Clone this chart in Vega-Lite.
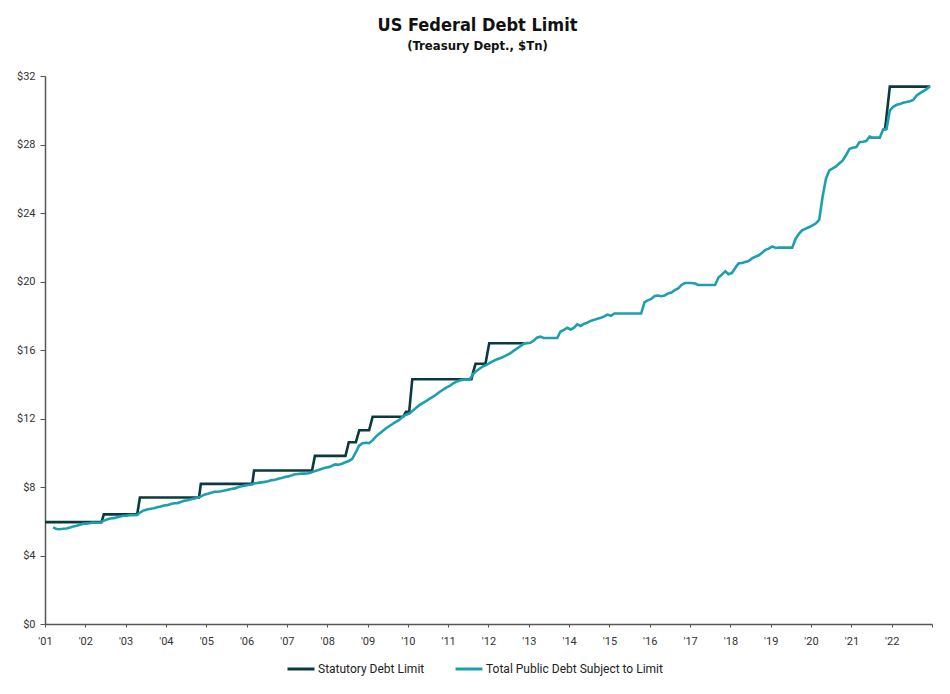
{
  "$schema": "https://vega.github.io/schema/vega-lite/v6.json",
  "width": 887,
  "height": 548,
  "autosize": {"type": "none"},
  "padding": {"left": 45, "top": 76, "right": 18, "bottom": 70},
  "background": "white",
  "config": {"view": {"stroke": null}},
  "title": {
    "text": "US Federal Debt Limit",
    "subtitle": "(Treasury Dept., $Tn)",
    "font": "DejaVu Sans Condensed",
    "fontSize": 18,
    "fontWeight": "bold",
    "color": "#111111",
    "subtitleFont": "DejaVu Sans Condensed",
    "subtitleFontSize": 13,
    "subtitleFontWeight": "bold",
    "subtitleColor": "#111111",
    "subtitlePadding": 5,
    "anchor": "middle",
    "dx": -11,
    "offset": 17
  },
  "data": {
    "values": [
      {"date": "2001-01-01", "series": "Statutory Debt Limit", "value": 5.95},
      {"date": "2002-05-28", "series": "Statutory Debt Limit", "value": 5.95},
      {"date": "2002-06-18", "series": "Statutory Debt Limit", "value": 6.4},
      {"date": "2003-04-16", "series": "Statutory Debt Limit", "value": 6.4},
      {"date": "2003-05-11", "series": "Statutory Debt Limit", "value": 7.384},
      {"date": "2004-10-27", "series": "Statutory Debt Limit", "value": 7.384},
      {"date": "2004-11-13", "series": "Statutory Debt Limit", "value": 8.184},
      {"date": "2006-02-21", "series": "Statutory Debt Limit", "value": 8.184},
      {"date": "2006-03-10", "series": "Statutory Debt Limit", "value": 8.965},
      {"date": "2007-08-17", "series": "Statutory Debt Limit", "value": 8.965},
      {"date": "2007-09-12", "series": "Statutory Debt Limit", "value": 9.815},
      {"date": "2008-06-15", "series": "Statutory Debt Limit", "value": 9.815},
      {"date": "2008-07-15", "series": "Statutory Debt Limit", "value": 10.615},
      {"date": "2008-09-17", "series": "Statutory Debt Limit", "value": 10.615},
      {"date": "2008-10-18", "series": "Statutory Debt Limit", "value": 11.315},
      {"date": "2009-01-15", "series": "Statutory Debt Limit", "value": 11.315},
      {"date": "2009-02-16", "series": "Statutory Debt Limit", "value": 12.104},
      {"date": "2009-11-20", "series": "Statutory Debt Limit", "value": 12.104},
      {"date": "2009-12-15", "series": "Statutory Debt Limit", "value": 12.394},
      {"date": "2010-01-13", "series": "Statutory Debt Limit", "value": 12.394},
      {"date": "2010-02-10", "series": "Statutory Debt Limit", "value": 14.294},
      {"date": "2011-07-31", "series": "Statutory Debt Limit", "value": 14.294},
      {"date": "2011-08-15", "series": "Statutory Debt Limit", "value": 14.694},
      {"date": "2011-09-06", "series": "Statutory Debt Limit", "value": 15.194},
      {"date": "2011-12-05", "series": "Statutory Debt Limit", "value": 15.194},
      {"date": "2012-01-08", "series": "Statutory Debt Limit", "value": 16.394},
      {"date": "2012-11-20", "series": "Statutory Debt Limit", "value": 16.394},
      {"date": "2013-06-15", "series": "Statutory Debt Limit", "value": null},
      {"date": "2021-10-15", "series": "Statutory Debt Limit", "value": 28.9},
      {"date": "2021-11-02", "series": "Statutory Debt Limit", "value": 28.9},
      {"date": "2021-12-15", "series": "Statutory Debt Limit", "value": 31.381},
      {"date": "2022-12-15", "series": "Statutory Debt Limit", "value": 31.381},
      {"date": "2001-03-15", "series": "Total Public Debt Subject to Limit", "value": 5.64},
      {"date": "2001-04-15", "series": "Total Public Debt Subject to Limit", "value": 5.55},
      {"date": "2001-05-15", "series": "Total Public Debt Subject to Limit", "value": 5.53},
      {"date": "2001-06-15", "series": "Total Public Debt Subject to Limit", "value": 5.56},
      {"date": "2001-07-15", "series": "Total Public Debt Subject to Limit", "value": 5.58},
      {"date": "2001-08-15", "series": "Total Public Debt Subject to Limit", "value": 5.63},
      {"date": "2001-09-15", "series": "Total Public Debt Subject to Limit", "value": 5.70},
      {"date": "2001-10-15", "series": "Total Public Debt Subject to Limit", "value": 5.74},
      {"date": "2001-11-15", "series": "Total Public Debt Subject to Limit", "value": 5.80},
      {"date": "2001-12-15", "series": "Total Public Debt Subject to Limit", "value": 5.86},
      {"date": "2002-01-15", "series": "Total Public Debt Subject to Limit", "value": 5.86},
      {"date": "2002-02-15", "series": "Total Public Debt Subject to Limit", "value": 5.90},
      {"date": "2002-03-15", "series": "Total Public Debt Subject to Limit", "value": 5.92},
      {"date": "2002-04-15", "series": "Total Public Debt Subject to Limit", "value": 5.91},
      {"date": "2002-05-15", "series": "Total Public Debt Subject to Limit", "value": 5.92},
      {"date": "2002-06-15", "series": "Total Public Debt Subject to Limit", "value": 6.02},
      {"date": "2002-07-15", "series": "Total Public Debt Subject to Limit", "value": 6.10},
      {"date": "2002-08-15", "series": "Total Public Debt Subject to Limit", "value": 6.16},
      {"date": "2002-09-15", "series": "Total Public Debt Subject to Limit", "value": 6.18},
      {"date": "2002-10-15", "series": "Total Public Debt Subject to Limit", "value": 6.23},
      {"date": "2002-11-15", "series": "Total Public Debt Subject to Limit", "value": 6.28},
      {"date": "2002-12-15", "series": "Total Public Debt Subject to Limit", "value": 6.32},
      {"date": "2003-01-15", "series": "Total Public Debt Subject to Limit", "value": 6.33},
      {"date": "2003-02-15", "series": "Total Public Debt Subject to Limit", "value": 6.36},
      {"date": "2003-03-15", "series": "Total Public Debt Subject to Limit", "value": 6.36},
      {"date": "2003-04-15", "series": "Total Public Debt Subject to Limit", "value": 6.37},
      {"date": "2003-05-15", "series": "Total Public Debt Subject to Limit", "value": 6.52},
      {"date": "2003-06-15", "series": "Total Public Debt Subject to Limit", "value": 6.63},
      {"date": "2003-07-15", "series": "Total Public Debt Subject to Limit", "value": 6.69},
      {"date": "2003-08-15", "series": "Total Public Debt Subject to Limit", "value": 6.73},
      {"date": "2003-09-15", "series": "Total Public Debt Subject to Limit", "value": 6.76},
      {"date": "2003-10-15", "series": "Total Public Debt Subject to Limit", "value": 6.82},
      {"date": "2003-11-15", "series": "Total Public Debt Subject to Limit", "value": 6.86},
      {"date": "2003-12-15", "series": "Total Public Debt Subject to Limit", "value": 6.92},
      {"date": "2004-01-15", "series": "Total Public Debt Subject to Limit", "value": 6.94},
      {"date": "2004-02-15", "series": "Total Public Debt Subject to Limit", "value": 7.01},
      {"date": "2004-03-15", "series": "Total Public Debt Subject to Limit", "value": 7.05},
      {"date": "2004-04-15", "series": "Total Public Debt Subject to Limit", "value": 7.06},
      {"date": "2004-05-15", "series": "Total Public Debt Subject to Limit", "value": 7.12},
      {"date": "2004-06-15", "series": "Total Public Debt Subject to Limit", "value": 7.20},
      {"date": "2004-07-15", "series": "Total Public Debt Subject to Limit", "value": 7.23},
      {"date": "2004-08-15", "series": "Total Public Debt Subject to Limit", "value": 7.29},
      {"date": "2004-09-15", "series": "Total Public Debt Subject to Limit", "value": 7.33},
      {"date": "2004-10-15", "series": "Total Public Debt Subject to Limit", "value": 7.38},
      {"date": "2004-11-15", "series": "Total Public Debt Subject to Limit", "value": 7.45},
      {"date": "2004-12-15", "series": "Total Public Debt Subject to Limit", "value": 7.55},
      {"date": "2005-01-15", "series": "Total Public Debt Subject to Limit", "value": 7.60},
      {"date": "2005-02-15", "series": "Total Public Debt Subject to Limit", "value": 7.67},
      {"date": "2005-03-15", "series": "Total Public Debt Subject to Limit", "value": 7.72},
      {"date": "2005-04-15", "series": "Total Public Debt Subject to Limit", "value": 7.72},
      {"date": "2005-05-15", "series": "Total Public Debt Subject to Limit", "value": 7.75},
      {"date": "2005-06-15", "series": "Total Public Debt Subject to Limit", "value": 7.80},
      {"date": "2005-07-15", "series": "Total Public Debt Subject to Limit", "value": 7.84},
      {"date": "2005-08-15", "series": "Total Public Debt Subject to Limit", "value": 7.88},
      {"date": "2005-09-15", "series": "Total Public Debt Subject to Limit", "value": 7.92},
      {"date": "2005-10-15", "series": "Total Public Debt Subject to Limit", "value": 7.99},
      {"date": "2005-11-15", "series": "Total Public Debt Subject to Limit", "value": 8.04},
      {"date": "2005-12-15", "series": "Total Public Debt Subject to Limit", "value": 8.08},
      {"date": "2006-01-15", "series": "Total Public Debt Subject to Limit", "value": 8.12},
      {"date": "2006-02-15", "series": "Total Public Debt Subject to Limit", "value": 8.15},
      {"date": "2006-03-15", "series": "Total Public Debt Subject to Limit", "value": 8.22},
      {"date": "2006-04-15", "series": "Total Public Debt Subject to Limit", "value": 8.24},
      {"date": "2006-05-15", "series": "Total Public Debt Subject to Limit", "value": 8.27},
      {"date": "2006-06-15", "series": "Total Public Debt Subject to Limit", "value": 8.30},
      {"date": "2006-07-15", "series": "Total Public Debt Subject to Limit", "value": 8.34},
      {"date": "2006-08-15", "series": "Total Public Debt Subject to Limit", "value": 8.40},
      {"date": "2006-09-15", "series": "Total Public Debt Subject to Limit", "value": 8.42},
      {"date": "2006-10-15", "series": "Total Public Debt Subject to Limit", "value": 8.48},
      {"date": "2006-11-15", "series": "Total Public Debt Subject to Limit", "value": 8.53},
      {"date": "2006-12-15", "series": "Total Public Debt Subject to Limit", "value": 8.58},
      {"date": "2007-01-15", "series": "Total Public Debt Subject to Limit", "value": 8.62},
      {"date": "2007-02-15", "series": "Total Public Debt Subject to Limit", "value": 8.68},
      {"date": "2007-03-15", "series": "Total Public Debt Subject to Limit", "value": 8.74},
      {"date": "2007-04-15", "series": "Total Public Debt Subject to Limit", "value": 8.76},
      {"date": "2007-05-15", "series": "Total Public Debt Subject to Limit", "value": 8.78},
      {"date": "2007-06-15", "series": "Total Public Debt Subject to Limit", "value": 8.78},
      {"date": "2007-07-15", "series": "Total Public Debt Subject to Limit", "value": 8.80},
      {"date": "2007-08-15", "series": "Total Public Debt Subject to Limit", "value": 8.86},
      {"date": "2007-09-15", "series": "Total Public Debt Subject to Limit", "value": 8.94},
      {"date": "2007-10-15", "series": "Total Public Debt Subject to Limit", "value": 8.99},
      {"date": "2007-11-15", "series": "Total Public Debt Subject to Limit", "value": 9.06},
      {"date": "2007-12-15", "series": "Total Public Debt Subject to Limit", "value": 9.12},
      {"date": "2008-01-15", "series": "Total Public Debt Subject to Limit", "value": 9.16},
      {"date": "2008-02-15", "series": "Total Public Debt Subject to Limit", "value": 9.24},
      {"date": "2008-03-15", "series": "Total Public Debt Subject to Limit", "value": 9.32},
      {"date": "2008-04-15", "series": "Total Public Debt Subject to Limit", "value": 9.30},
      {"date": "2008-05-15", "series": "Total Public Debt Subject to Limit", "value": 9.36},
      {"date": "2008-06-15", "series": "Total Public Debt Subject to Limit", "value": 9.45},
      {"date": "2008-07-15", "series": "Total Public Debt Subject to Limit", "value": 9.52},
      {"date": "2008-08-15", "series": "Total Public Debt Subject to Limit", "value": 9.64},
      {"date": "2008-09-15", "series": "Total Public Debt Subject to Limit", "value": 10.00},
      {"date": "2008-10-15", "series": "Total Public Debt Subject to Limit", "value": 10.40},
      {"date": "2008-11-15", "series": "Total Public Debt Subject to Limit", "value": 10.56},
      {"date": "2008-12-15", "series": "Total Public Debt Subject to Limit", "value": 10.58},
      {"date": "2009-01-15", "series": "Total Public Debt Subject to Limit", "value": 10.56},
      {"date": "2009-02-15", "series": "Total Public Debt Subject to Limit", "value": 10.72},
      {"date": "2009-03-15", "series": "Total Public Debt Subject to Limit", "value": 10.93},
      {"date": "2009-04-15", "series": "Total Public Debt Subject to Limit", "value": 11.10},
      {"date": "2009-05-15", "series": "Total Public Debt Subject to Limit", "value": 11.25},
      {"date": "2009-06-15", "series": "Total Public Debt Subject to Limit", "value": 11.42},
      {"date": "2009-07-15", "series": "Total Public Debt Subject to Limit", "value": 11.55},
      {"date": "2009-08-15", "series": "Total Public Debt Subject to Limit", "value": 11.68},
      {"date": "2009-09-15", "series": "Total Public Debt Subject to Limit", "value": 11.80},
      {"date": "2009-10-15", "series": "Total Public Debt Subject to Limit", "value": 11.92},
      {"date": "2009-11-15", "series": "Total Public Debt Subject to Limit", "value": 12.10},
      {"date": "2009-12-15", "series": "Total Public Debt Subject to Limit", "value": 12.22},
      {"date": "2010-01-15", "series": "Total Public Debt Subject to Limit", "value": 12.29},
      {"date": "2010-02-15", "series": "Total Public Debt Subject to Limit", "value": 12.46},
      {"date": "2010-03-15", "series": "Total Public Debt Subject to Limit", "value": 12.62},
      {"date": "2010-04-15", "series": "Total Public Debt Subject to Limit", "value": 12.78},
      {"date": "2010-05-15", "series": "Total Public Debt Subject to Limit", "value": 12.90},
      {"date": "2010-06-15", "series": "Total Public Debt Subject to Limit", "value": 13.02},
      {"date": "2010-07-15", "series": "Total Public Debt Subject to Limit", "value": 13.14},
      {"date": "2010-08-15", "series": "Total Public Debt Subject to Limit", "value": 13.26},
      {"date": "2010-09-15", "series": "Total Public Debt Subject to Limit", "value": 13.40},
      {"date": "2010-10-15", "series": "Total Public Debt Subject to Limit", "value": 13.55},
      {"date": "2010-11-15", "series": "Total Public Debt Subject to Limit", "value": 13.68},
      {"date": "2010-12-15", "series": "Total Public Debt Subject to Limit", "value": 13.80},
      {"date": "2011-01-15", "series": "Total Public Debt Subject to Limit", "value": 13.90},
      {"date": "2011-02-15", "series": "Total Public Debt Subject to Limit", "value": 14.05},
      {"date": "2011-03-15", "series": "Total Public Debt Subject to Limit", "value": 14.14},
      {"date": "2011-04-15", "series": "Total Public Debt Subject to Limit", "value": 14.22},
      {"date": "2011-05-15", "series": "Total Public Debt Subject to Limit", "value": 14.27},
      {"date": "2011-06-15", "series": "Total Public Debt Subject to Limit", "value": 14.28},
      {"date": "2011-07-15", "series": "Total Public Debt Subject to Limit", "value": 14.28},
      {"date": "2011-08-15", "series": "Total Public Debt Subject to Limit", "value": 14.60},
      {"date": "2011-09-15", "series": "Total Public Debt Subject to Limit", "value": 14.78},
      {"date": "2011-10-15", "series": "Total Public Debt Subject to Limit", "value": 14.92},
      {"date": "2011-11-15", "series": "Total Public Debt Subject to Limit", "value": 15.05},
      {"date": "2011-12-15", "series": "Total Public Debt Subject to Limit", "value": 15.13},
      {"date": "2012-01-15", "series": "Total Public Debt Subject to Limit", "value": 15.25},
      {"date": "2012-02-15", "series": "Total Public Debt Subject to Limit", "value": 15.36},
      {"date": "2012-03-15", "series": "Total Public Debt Subject to Limit", "value": 15.45},
      {"date": "2012-04-15", "series": "Total Public Debt Subject to Limit", "value": 15.52},
      {"date": "2012-05-15", "series": "Total Public Debt Subject to Limit", "value": 15.60},
      {"date": "2012-06-15", "series": "Total Public Debt Subject to Limit", "value": 15.70},
      {"date": "2012-07-15", "series": "Total Public Debt Subject to Limit", "value": 15.80},
      {"date": "2012-08-15", "series": "Total Public Debt Subject to Limit", "value": 15.95},
      {"date": "2012-09-15", "series": "Total Public Debt Subject to Limit", "value": 16.08},
      {"date": "2012-10-15", "series": "Total Public Debt Subject to Limit", "value": 16.22},
      {"date": "2012-11-15", "series": "Total Public Debt Subject to Limit", "value": 16.36},
      {"date": "2012-12-15", "series": "Total Public Debt Subject to Limit", "value": 16.40},
      {"date": "2013-01-15", "series": "Total Public Debt Subject to Limit", "value": 16.42},
      {"date": "2013-02-15", "series": "Total Public Debt Subject to Limit", "value": 16.55},
      {"date": "2013-03-15", "series": "Total Public Debt Subject to Limit", "value": 16.72},
      {"date": "2013-04-15", "series": "Total Public Debt Subject to Limit", "value": 16.78},
      {"date": "2013-05-15", "series": "Total Public Debt Subject to Limit", "value": 16.70},
      {"date": "2013-06-15", "series": "Total Public Debt Subject to Limit", "value": 16.70},
      {"date": "2013-07-15", "series": "Total Public Debt Subject to Limit", "value": 16.70},
      {"date": "2013-08-15", "series": "Total Public Debt Subject to Limit", "value": 16.70},
      {"date": "2013-09-15", "series": "Total Public Debt Subject to Limit", "value": 16.70},
      {"date": "2013-10-15", "series": "Total Public Debt Subject to Limit", "value": 17.08},
      {"date": "2013-11-15", "series": "Total Public Debt Subject to Limit", "value": 17.18},
      {"date": "2013-12-15", "series": "Total Public Debt Subject to Limit", "value": 17.30},
      {"date": "2014-01-15", "series": "Total Public Debt Subject to Limit", "value": 17.20},
      {"date": "2014-02-15", "series": "Total Public Debt Subject to Limit", "value": 17.30},
      {"date": "2014-03-15", "series": "Total Public Debt Subject to Limit", "value": 17.50},
      {"date": "2014-04-15", "series": "Total Public Debt Subject to Limit", "value": 17.40},
      {"date": "2014-05-15", "series": "Total Public Debt Subject to Limit", "value": 17.52},
      {"date": "2014-06-15", "series": "Total Public Debt Subject to Limit", "value": 17.60},
      {"date": "2014-07-15", "series": "Total Public Debt Subject to Limit", "value": 17.70},
      {"date": "2014-08-15", "series": "Total Public Debt Subject to Limit", "value": 17.76},
      {"date": "2014-09-15", "series": "Total Public Debt Subject to Limit", "value": 17.83},
      {"date": "2014-10-15", "series": "Total Public Debt Subject to Limit", "value": 17.88},
      {"date": "2014-11-15", "series": "Total Public Debt Subject to Limit", "value": 17.96},
      {"date": "2014-12-15", "series": "Total Public Debt Subject to Limit", "value": 18.07},
      {"date": "2015-01-15", "series": "Total Public Debt Subject to Limit", "value": 18.00},
      {"date": "2015-02-15", "series": "Total Public Debt Subject to Limit", "value": 18.13},
      {"date": "2015-03-15", "series": "Total Public Debt Subject to Limit", "value": 18.13},
      {"date": "2015-04-15", "series": "Total Public Debt Subject to Limit", "value": 18.13},
      {"date": "2015-05-15", "series": "Total Public Debt Subject to Limit", "value": 18.13},
      {"date": "2015-06-15", "series": "Total Public Debt Subject to Limit", "value": 18.13},
      {"date": "2015-07-15", "series": "Total Public Debt Subject to Limit", "value": 18.13},
      {"date": "2015-08-15", "series": "Total Public Debt Subject to Limit", "value": 18.13},
      {"date": "2015-09-15", "series": "Total Public Debt Subject to Limit", "value": 18.13},
      {"date": "2015-10-15", "series": "Total Public Debt Subject to Limit", "value": 18.13},
      {"date": "2015-11-15", "series": "Total Public Debt Subject to Limit", "value": 18.80},
      {"date": "2015-12-15", "series": "Total Public Debt Subject to Limit", "value": 18.90},
      {"date": "2016-01-15", "series": "Total Public Debt Subject to Limit", "value": 18.98},
      {"date": "2016-02-15", "series": "Total Public Debt Subject to Limit", "value": 19.15},
      {"date": "2016-03-15", "series": "Total Public Debt Subject to Limit", "value": 19.18},
      {"date": "2016-04-15", "series": "Total Public Debt Subject to Limit", "value": 19.14},
      {"date": "2016-05-15", "series": "Total Public Debt Subject to Limit", "value": 19.18},
      {"date": "2016-06-15", "series": "Total Public Debt Subject to Limit", "value": 19.30},
      {"date": "2016-07-15", "series": "Total Public Debt Subject to Limit", "value": 19.36},
      {"date": "2016-08-15", "series": "Total Public Debt Subject to Limit", "value": 19.50},
      {"date": "2016-09-15", "series": "Total Public Debt Subject to Limit", "value": 19.60},
      {"date": "2016-10-15", "series": "Total Public Debt Subject to Limit", "value": 19.80},
      {"date": "2016-11-15", "series": "Total Public Debt Subject to Limit", "value": 19.91},
      {"date": "2016-12-15", "series": "Total Public Debt Subject to Limit", "value": 19.91},
      {"date": "2017-01-15", "series": "Total Public Debt Subject to Limit", "value": 19.91},
      {"date": "2017-02-15", "series": "Total Public Debt Subject to Limit", "value": 19.88},
      {"date": "2017-03-15", "series": "Total Public Debt Subject to Limit", "value": 19.80},
      {"date": "2017-04-15", "series": "Total Public Debt Subject to Limit", "value": 19.80},
      {"date": "2017-05-15", "series": "Total Public Debt Subject to Limit", "value": 19.80},
      {"date": "2017-06-15", "series": "Total Public Debt Subject to Limit", "value": 19.80},
      {"date": "2017-07-15", "series": "Total Public Debt Subject to Limit", "value": 19.80},
      {"date": "2017-08-15", "series": "Total Public Debt Subject to Limit", "value": 19.80},
      {"date": "2017-09-15", "series": "Total Public Debt Subject to Limit", "value": 20.23},
      {"date": "2017-10-15", "series": "Total Public Debt Subject to Limit", "value": 20.40},
      {"date": "2017-11-15", "series": "Total Public Debt Subject to Limit", "value": 20.60},
      {"date": "2017-12-15", "series": "Total Public Debt Subject to Limit", "value": 20.42},
      {"date": "2018-01-15", "series": "Total Public Debt Subject to Limit", "value": 20.50},
      {"date": "2018-02-15", "series": "Total Public Debt Subject to Limit", "value": 20.80},
      {"date": "2018-03-15", "series": "Total Public Debt Subject to Limit", "value": 21.05},
      {"date": "2018-04-15", "series": "Total Public Debt Subject to Limit", "value": 21.08},
      {"date": "2018-05-15", "series": "Total Public Debt Subject to Limit", "value": 21.14},
      {"date": "2018-06-15", "series": "Total Public Debt Subject to Limit", "value": 21.20},
      {"date": "2018-07-15", "series": "Total Public Debt Subject to Limit", "value": 21.35},
      {"date": "2018-08-15", "series": "Total Public Debt Subject to Limit", "value": 21.45},
      {"date": "2018-09-15", "series": "Total Public Debt Subject to Limit", "value": 21.53},
      {"date": "2018-10-15", "series": "Total Public Debt Subject to Limit", "value": 21.68},
      {"date": "2018-11-15", "series": "Total Public Debt Subject to Limit", "value": 21.85},
      {"date": "2018-12-15", "series": "Total Public Debt Subject to Limit", "value": 21.92},
      {"date": "2019-01-15", "series": "Total Public Debt Subject to Limit", "value": 22.05},
      {"date": "2019-02-15", "series": "Total Public Debt Subject to Limit", "value": 21.96},
      {"date": "2019-03-15", "series": "Total Public Debt Subject to Limit", "value": 21.98},
      {"date": "2019-04-15", "series": "Total Public Debt Subject to Limit", "value": 21.98},
      {"date": "2019-05-15", "series": "Total Public Debt Subject to Limit", "value": 21.98},
      {"date": "2019-06-15", "series": "Total Public Debt Subject to Limit", "value": 21.98},
      {"date": "2019-07-15", "series": "Total Public Debt Subject to Limit", "value": 21.98},
      {"date": "2019-08-15", "series": "Total Public Debt Subject to Limit", "value": 22.50},
      {"date": "2019-09-15", "series": "Total Public Debt Subject to Limit", "value": 22.80},
      {"date": "2019-10-15", "series": "Total Public Debt Subject to Limit", "value": 23.00},
      {"date": "2019-11-15", "series": "Total Public Debt Subject to Limit", "value": 23.09},
      {"date": "2019-12-15", "series": "Total Public Debt Subject to Limit", "value": 23.18},
      {"date": "2020-01-15", "series": "Total Public Debt Subject to Limit", "value": 23.28},
      {"date": "2020-02-15", "series": "Total Public Debt Subject to Limit", "value": 23.40},
      {"date": "2020-03-15", "series": "Total Public Debt Subject to Limit", "value": 23.60},
      {"date": "2020-04-15", "series": "Total Public Debt Subject to Limit", "value": 24.95},
      {"date": "2020-05-15", "series": "Total Public Debt Subject to Limit", "value": 26.00},
      {"date": "2020-06-15", "series": "Total Public Debt Subject to Limit", "value": 26.49},
      {"date": "2020-07-15", "series": "Total Public Debt Subject to Limit", "value": 26.60},
      {"date": "2020-08-15", "series": "Total Public Debt Subject to Limit", "value": 26.72},
      {"date": "2020-09-15", "series": "Total Public Debt Subject to Limit", "value": 26.90},
      {"date": "2020-10-15", "series": "Total Public Debt Subject to Limit", "value": 27.07},
      {"date": "2020-11-15", "series": "Total Public Debt Subject to Limit", "value": 27.40},
      {"date": "2020-12-15", "series": "Total Public Debt Subject to Limit", "value": 27.75},
      {"date": "2021-01-15", "series": "Total Public Debt Subject to Limit", "value": 27.81},
      {"date": "2021-02-15", "series": "Total Public Debt Subject to Limit", "value": 27.85},
      {"date": "2021-03-15", "series": "Total Public Debt Subject to Limit", "value": 28.14},
      {"date": "2021-04-15", "series": "Total Public Debt Subject to Limit", "value": 28.16},
      {"date": "2021-05-15", "series": "Total Public Debt Subject to Limit", "value": 28.20},
      {"date": "2021-06-15", "series": "Total Public Debt Subject to Limit", "value": 28.47},
      {"date": "2021-07-15", "series": "Total Public Debt Subject to Limit", "value": 28.40},
      {"date": "2021-08-15", "series": "Total Public Debt Subject to Limit", "value": 28.40},
      {"date": "2021-09-15", "series": "Total Public Debt Subject to Limit", "value": 28.40},
      {"date": "2021-10-15", "series": "Total Public Debt Subject to Limit", "value": 28.88},
      {"date": "2021-11-15", "series": "Total Public Debt Subject to Limit", "value": 28.90},
      {"date": "2021-12-15", "series": "Total Public Debt Subject to Limit", "value": 29.99},
      {"date": "2022-01-15", "series": "Total Public Debt Subject to Limit", "value": 30.20},
      {"date": "2022-02-15", "series": "Total Public Debt Subject to Limit", "value": 30.32},
      {"date": "2022-03-15", "series": "Total Public Debt Subject to Limit", "value": 30.36},
      {"date": "2022-04-15", "series": "Total Public Debt Subject to Limit", "value": 30.44},
      {"date": "2022-05-15", "series": "Total Public Debt Subject to Limit", "value": 30.48},
      {"date": "2022-06-15", "series": "Total Public Debt Subject to Limit", "value": 30.53},
      {"date": "2022-07-15", "series": "Total Public Debt Subject to Limit", "value": 30.60},
      {"date": "2022-08-15", "series": "Total Public Debt Subject to Limit", "value": 30.86},
      {"date": "2022-09-15", "series": "Total Public Debt Subject to Limit", "value": 31.00},
      {"date": "2022-10-15", "series": "Total Public Debt Subject to Limit", "value": 31.12},
      {"date": "2022-11-15", "series": "Total Public Debt Subject to Limit", "value": 31.25},
      {"date": "2022-12-15", "series": "Total Public Debt Subject to Limit", "value": 31.40}
    ]
  },
  "mark": {"type": "line", "strokeWidth": 2.6, "invalid": "break-paths-show-domains", "clip": false},
  "encoding": {
    "x": {
      "field": "date",
      "type": "temporal",
      "scale": {
        "type": "utc",
        "domain": [
          {"year": 2001, "month": 1, "date": 1, "utc": true},
          {"year": 2023, "month": 1, "date": 1, "utc": true}
        ]
      },
      "axis": {
        "title": null,
        "labelExpr": "utcyear(datum.value) >= 2023 ? '' : utcFormat(datum.value, \"'%y\")",
        "tickCount": {"interval": "year", "step": 1},
        "grid": false,
        "domainColor": "#555555",
        "domainWidth": 1.5,
        "tickColor": "#555555",
        "tickSize": 3,
        "labelFont": "Roboto",
        "labelFontSize": 11,
        "labelColor": "#333333",
        "labelPadding": 8,
        "labelFlush": false
      }
    },
    "y": {
      "field": "value",
      "type": "quantitative",
      "scale": {"domain": [0, 32], "nice": false},
      "axis": {
        "title": null,
        "values": [0, 4, 8, 12, 16, 20, 24, 28, 32],
        "format": "$.0f",
        "grid": false,
        "domainColor": "#555555",
        "domainWidth": 1.5,
        "tickColor": "#555555",
        "tickSize": 5,
        "labelFont": "Roboto",
        "labelFontSize": 11,
        "labelColor": "#333333",
        "labelPadding": 5
      }
    },
    "color": {
      "field": "series",
      "type": "nominal",
      "scale": {
        "domain": ["Statutory Debt Limit", "Total Public Debt Subject to Limit"],
        "range": ["#0b3a3c", "#1d9fb0"]
      },
      "legend": {
        "title": null,
        "orient": "none",
        "direction": "horizontal",
        "legendX": 241,
        "legendY": 578,
        "symbolType": "stroke",
        "symbolSize": 729,
        "symbolStrokeWidth": 3,
        "labelFont": "Roboto",
        "labelFontSize": 12,
        "labelColor": "#222222",
        "labelOffset": 2,
        "labelLimit": 400,
        "columnPadding": 24
      }
    }
  }
}
